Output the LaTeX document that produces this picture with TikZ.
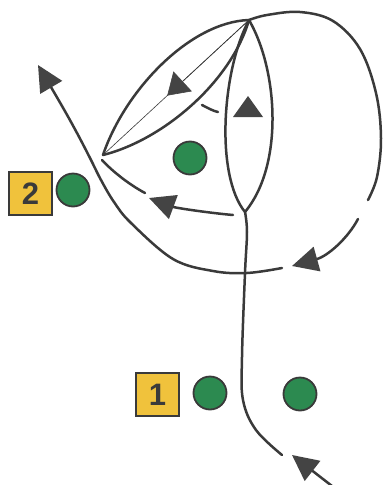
\documentclass[tikz,border=0pt]{standalone}
\usepackage{fontspec}
\setmainfont{Liberation Sans}
\usetikzlibrary{arrows.meta,calc}
\definecolor{ink}{HTML}{3A3A3A}
\definecolor{headc}{HTML}{444444}
\definecolor{pgreen}{HTML}{2C8A50}
\definecolor{pyellow}{HTML}{F0C23C}
\tikzset{
  route/.style={draw=ink, line width=2.5pt, line cap=round},
  thinroute/.style={draw=ink, line width=0.6pt},
  head/.style={-{Triangle[length=26pt,width=25pt,fill=headc,color=headc]}},
  smallhead/.style={-{Triangle[length=21pt,width=27pt,fill=headc,color=headc]}},
  player/.style={circle, draw=ink, line width=1.8pt, fill=pgreen, minimum size=33pt, inner sep=0pt},
  coach/.style={rectangle, draw=ink, line width=1.8pt, fill=pyellow, minimum size=43pt, inner sep=0pt,
    font=\bfseries\fontsize{31}{31}\selectfont, text=ink},
}
\begin{document}
\begin{tikzpicture}[x=1pt,y=-1pt]
\useasboundingbox (0,0) rectangle (383,485);
\fill[white] (0,0) rectangle (383,485);

\coordinate (P) at (249,20);
\coordinate (L) at (103,155);
\coordinate (B) at (245,212);

% players and coaches
\node[player] (g1) at (190,158) {};
\node[player] (g2) at (73,190) {};
\node[player] (g3) at (210,393) {};
\node[player] (g4) at (300,394) {};
\node[coach] (c2) at (30.5,193.5) {2};
\node[coach] (c1) at (157.5,394.5) {1};

% right lens
\draw[route] (P) .. controls (222,70) and (215,175) .. (B);
\draw[route] (P) .. controls (278,70) and (284,165) .. (B);

% left lens
\draw[route] (L) .. controls (125,90) and (190,22) .. (P);
\draw[route] (L) .. controls (163,140) and (231,82) .. (P);
\draw[thinroute] (L) -- (P);
\coordinate (tA) at ($(L)!0.44!(P)$);
\draw[thinroute, smallhead] (P) -- (tA);

% short dash and up arrowhead
\coordinate (d1) at (202,105);
\coordinate (d2) at (218,112);
\draw[route] (d1) .. controls (208,108) and (213,111) .. (d2);
\coordinate (u1) at (248,96);
\fill[headc] (u1) -- (263,117) -- (233,117) -- cycle;

% pass back to L
\coordinate (p0) at (233,215);
\coordinate (p1) at (149,198);
\coordinate (p2) at (145,193);
\coordinate (p3) at (102,160);
\draw[route, head] (p0) .. controls (210,213) and (176,208) .. (p1);
\draw[route] (p2) .. controls (130,185) and (113,172) .. (p3);

% big loop
\draw[route] plot[smooth, tension=0.6] coordinates {(249,20) (267,15) (300,12) (333,21) (360,49) (376,93) (381,138) (377,177) (368,200)};
\coordinate (q0) at (358,219);
\coordinate (q1) at (292,266);
\draw[route, head] (q0) .. controls (348,238) and (328,256) .. (q1);

% long curve to top-left
\draw[route, head] plot[smooth, tension=0.6] coordinates {(282,268) (247,273) (213,271) (173,259) (131,223) (114,202) (101,180) (90,158) (77,133) (62,106) (38,65)};

% vertical run
\draw[route] plot[smooth, tension=0.6] coordinates {(B) (247,232) (245,273) (242,357) (243,400) (256,430) (282,455)};
\coordinate (s0) at (332,486);
\coordinate (s1) at (292,455);
\draw[route, head] (s0) -- (s1);
\end{tikzpicture}
\end{document}
